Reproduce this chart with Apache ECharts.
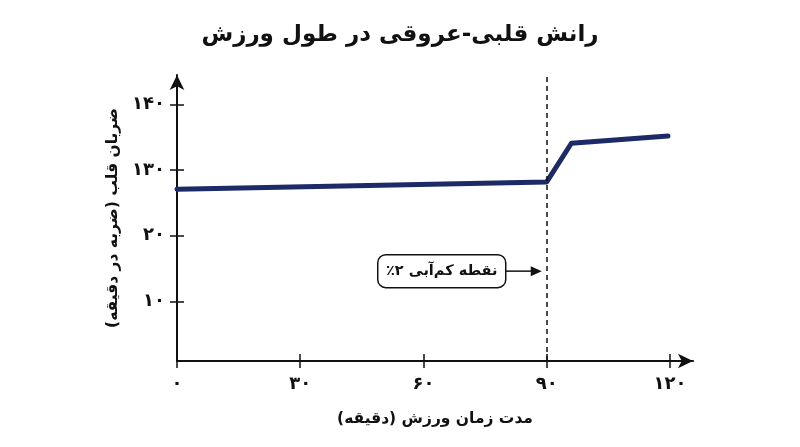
<!DOCTYPE html>
<html dir="rtl">
<head>
<meta charset="utf-8">
<script src="https://cdn.jsdelivr.net/npm/echarts@6/dist/echarts.min.js"></script>
<style>
  html, body { margin: 0; padding: 0; background: #fff; }
  #chart { width: 800px; height: 447px; }
</style>
</head>
<body>
<div id="chart"></div>
<script>
// data (y is in the drawn axis units, labels are as printed)
const timeMin = [0, 90, 96, 119.5];
const hrValues = [27.1, 28.2, 34.1, 35.2];
const xTicks = [0, 30, 60, 90, 120];
const xTickLabels = ["۰", "۳۰", "۶۰", "۹۰", "۱۲۰"];
const yTicks = [10, 20, 30, 40];
const yTickLabels = ["۱۰", "۲۰", "۱۳۰", "۱۴۰"];
const markTime = 90;
const noteY = 14.6;
const noteText = "نقطه کم‌آبی ۲٪";

const font = "'DejaVu Sans', 'Noto Sans', sans-serif";
const ink = "#111";
const lineColor = "#1c2a68";

const el = (id) => document.getElementById(id);
const chart = echarts.init(el("chart"));

const labelOf = (ticks, labels) => (v) => {
  const i = ticks.indexOf(Math.round(v));
  return i >= 0 ? labels[i] : "";
};

// axis lines run to the arrow tips, so max sits past the last tick
const xBase = {
  type: "value", min: 0, max: 125.6, gridIndex: 0, position: "bottom",
  splitLine: {show: false}
};
const yBase = {
  type: "value", min: 0.9, max: 44.5, gridIndex: 0, position: "left",
  splitLine: {show: false}
};
const arrowLine = {show: true, lineStyle: {color: ink, width: 2},
  symbol: ["none", "arrow"], symbolSize: [11, 15]};

chart.setOption({
  animation: false,
  textStyle: {fontFamily: font},
  title: {
    text: "رانش قلبی-عروقی در طول ورزش",
    left: "center", top: 19,
    textStyle: {fontFamily: font, fontSize: 23, fontWeight: "bold", color: ink}
  },
  grid: {left: 177, right: 107, top: 75, bottom: 86},
  xAxis: [
    Object.assign({}, xBase, {
      name: "مدت زمان ورزش (دقیقه)",
      nameLocation: "middle", nameGap: 50,
      nameTextStyle: {fontFamily: font, fontSize: 15.5, fontWeight: "bold", color: ink},
      axisLine: arrowLine,
      axisTick: {show: true, length: 7, lineStyle: {color: ink, width: 1.5}, customValues: xTicks},
      axisLabel: {customValues: xTicks, formatter: labelOf(xTicks, xTickLabels),
        margin: 14, fontFamily: font, fontSize: 18, fontWeight: "bold", color: ink}
    }),
    Object.assign({}, xBase, {
      axisLine: {show: false},
      axisTick: {show: true, inside: true, length: 7, lineStyle: {color: ink, width: 1.5}, customValues: xTicks},
      axisLabel: {show: false}
    })
  ],
  yAxis: [
    Object.assign({}, yBase, {
      name: "ضربان قلب (ضربه در دقیقه)",
      nameLocation: "middle", nameGap: 52,
      nameTextStyle: {fontFamily: font, fontSize: 15.5, fontWeight: "bold", color: ink},
      axisLine: arrowLine,
      axisTick: {show: true, length: 7, lineStyle: {color: ink, width: 1.5}, customValues: yTicks},
      axisLabel: {customValues: yTicks, formatter: labelOf(yTicks, yTickLabels),
        margin: 12, fontFamily: font, fontSize: 18, fontWeight: "bold", color: ink}
    }),
    Object.assign({}, yBase, {
      axisLine: {show: false},
      axisTick: {show: true, inside: true, length: 7, lineStyle: {color: ink, width: 1.5}, customValues: yTicks},
      axisLabel: {show: false}
    })
  ],
  series: [{
    type: "line",
    xAxisIndex: 0, yAxisIndex: 0,
    data: timeMin.map((t, i) => [t, hrValues[i]]),
    showSymbol: false,
    symbol: "none",
    lineStyle: {color: lineColor, width: 5, cap: "round", join: "round"},
    markLine: {
      silent: true,
      symbol: "none",
      label: {show: false},
      lineStyle: {color: ink, width: 1.5, type: [5, 4]},
      data: [{xAxis: markTime}]
    }
  }]
});

// callout box + arrow pointing at the dashed line
const tip = chart.convertToPixel({gridIndex: 0}, [markTime, noteY]);
const tipX = tip[0] - 5, tipY = tip[1];
const boxW = 128, boxH = 33;
const boxR = tipX - 36;
chart.setOption({
  graphic: [
    {
      type: "rect",
      shape: {x: boxR - boxW, y: tipY - boxH / 2, width: boxW, height: boxH, r: 8},
      style: {fill: "#fff", stroke: ink, lineWidth: 1.5}
    },
    {
      type: "text",
      x: boxR - boxW / 2, y: tipY,
      style: {text: noteText, fontFamily: font, fontSize: 14.5, fontWeight: "bold",
        fill: ink, align: "center", verticalAlign: "middle"}
    },
    {
      type: "line",
      shape: {x1: boxR, y1: tipY, x2: tipX - 8, y2: tipY},
      style: {stroke: ink, lineWidth: 1.5}
    },
    {
      type: "polygon",
      shape: {points: [[tipX, tipY], [tipX - 11, tipY - 5], [tipX - 11, tipY + 5]]},
      style: {fill: ink}
    }
  ]
});
</script>
</body>
</html>
